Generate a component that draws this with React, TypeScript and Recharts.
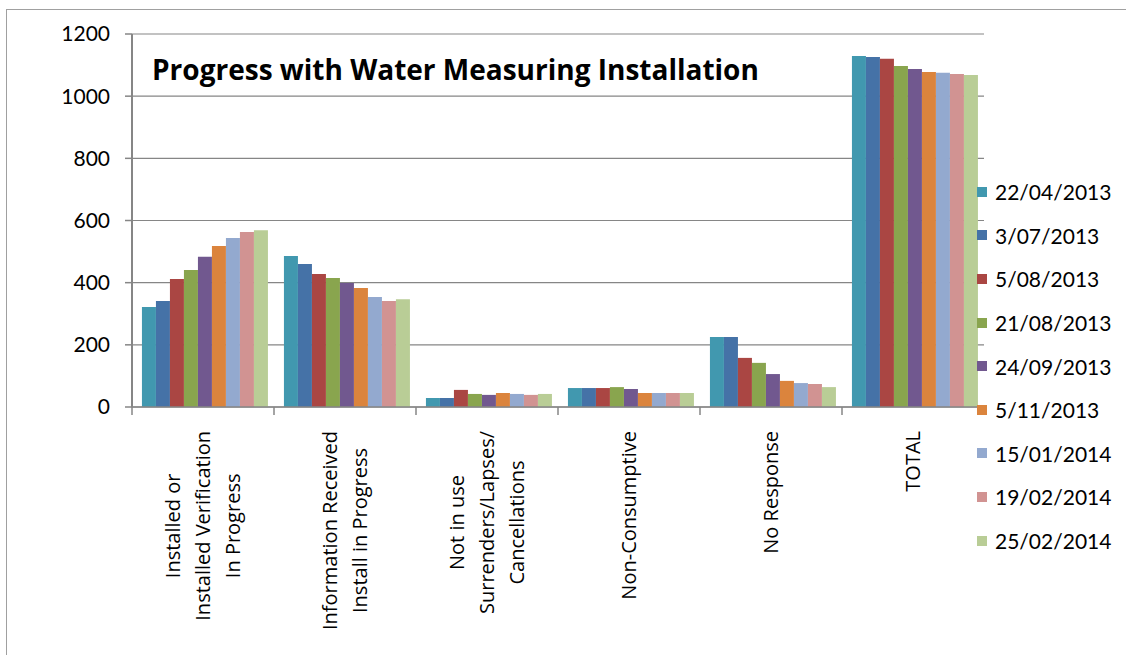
import React from 'react';
import { BarChart, Bar, XAxis, YAxis, CartesianGrid } from 'recharts';

const categories = [
  'Installed or\nInstalled Verification\nIn Progress',
  'Information Received\nInstall in Progress',
  'Not in use\nSurrenders/Lapses/\nCancellations',
  'Non-Consumptive',
  'No Response',
  'TOTAL',
];

const dates = [
  '22/04/2013', '3/07/2013', '5/08/2013', '21/08/2013', '24/09/2013',
  '5/11/2013', '15/01/2014', '19/02/2014', '25/02/2014',
];

const colors = [
  '#4198AF', '#4572A7', '#AA4643', '#89A54E', '#71588F',
  '#DB843D', '#93A9CF', '#D19392', '#B9CD96',
];

// values per date, in the same order as categories
const d22Apr13 = [322, 486, 29, 61, 225, 1129];
const d3Jul13 = [341, 460, 29, 61, 225, 1126];
const d5Aug13 = [412, 428, 55, 61, 158, 1120];
const d21Aug13 = [441, 415, 42, 64, 142, 1097];
const d24Sep13 = [483, 399, 39, 58, 106, 1087];
const d5Nov13 = [518, 383, 45, 45, 84, 1078];
const d15Jan14 = [544, 354, 42, 45, 77, 1075];
const d19Feb14 = [563, 341, 39, 45, 74, 1071];
const d25Feb14 = [569, 347, 42, 45, 64, 1068];

const seriesValues = [
  d22Apr13, d3Jul13, d5Aug13, d21Aug13, d24Sep13,
  d5Nov13, d15Jan14, d19Feb14, d25Feb14,
];

const yTicks = [0, 200, 400, 600, 800, 1000, 1200];

const data = categories.map((name, i) => {
  const row: Record<string, string | number> = { name };
  dates.forEach((d, s) => {
    row[d] = seriesValues[s][i];
  });
  return row;
});

const W = 1126;
const H = 655;
const PLOT_LEFT = 132;
const PLOT_RIGHT = 984;
const PLOT_TOP = 34;
const PLOT_BOTTOM = 407;
const AXIS = '#868686';
const FONT = 'Lato, "Open Sans", sans-serif';
const LABEL_FONT = '"Open Sans", sans-serif';
const LABEL_FONT_SIZE = 20;

let ctx: CanvasRenderingContext2D | null = null;
const textWidth = (s: string) => {
  if (!ctx) ctx = document.createElement('canvas').getContext('2d');
  if (!ctx) return s.length * 10;
  ctx.font = `${LABEL_FONT_SIZE}px "Open Sans"`;
  return ctx.measureText(s).width;
};

const CategoryTick = (props: any) => {
  const { x, payload, index } = props;
  const band = (PLOT_RIGHT - PLOT_LEFT) / categories.length;
  const lines: string[] = String(payload.value).split('\n');
  const maxW = Math.max(...lines.map(textWidth));
  const cy = 431 + maxW / 2;
  const isLast = index === categories.length - 1;
  return (
    <g>
      <line x1={x - band / 2} x2={x - band / 2} y1={PLOT_BOTTOM} y2={PLOT_BOTTOM + 8} stroke={AXIS} strokeWidth={1.5} />
      {isLast && (
        <line x1={x + band / 2} x2={x + band / 2} y1={PLOT_BOTTOM} y2={PLOT_BOTTOM + 8} stroke={AXIS} strokeWidth={1.5} />
      )}
      {lines.map((ln, i) => {
        const px = x + (i - (lines.length - 1) / 2) * 30;
        return (
          <text
            key={i}
            x={px}
            y={cy}
            transform={`rotate(-90, ${px}, ${cy})`}
            textAnchor="middle"
            dominantBaseline="central"
            fontFamily={LABEL_FONT}
            fontSize={LABEL_FONT_SIZE}
            fill="#000"
          >
            {ln}
          </text>
        );
      })}
    </g>
  );
};

export default function App() {
  return (
    <div style={{ position: 'absolute', left: 0, top: 0, width: W, height: H, background: '#fff', overflow: 'hidden' }}>
      <div
        style={{
          position: 'absolute', left: 6, top: 9, width: W, height: H,
          borderLeft: '1.5px solid #a0a0a0', borderTop: '1.5px solid #a0a0a0',
        }}
      />
      <BarChart
        width={W}
        height={H}
        data={data}
        margin={{ top: PLOT_TOP, right: W - PLOT_RIGHT, left: PLOT_LEFT - 60, bottom: H - PLOT_BOTTOM - 220 }}
        barCategoryGap="7%"
        barGap={0}
        style={{ position: 'absolute', left: 0, top: 0 }}
      >
        <CartesianGrid horizontal vertical={false} stroke={AXIS} strokeWidth={1.2} />
        <XAxis
          dataKey="name"
          interval={0}
          height={220}
          tickLine={false}
          axisLine={{ stroke: AXIS, strokeWidth: 1.5 }}
          tick={<CategoryTick />}
        />
        <YAxis
          width={60}
          domain={[0, 1200]}
          ticks={yTicks}
          interval={0}
          tickSize={7}
          tickMargin={15}
          axisLine={{ stroke: AXIS, strokeWidth: 2 }}
          tickLine={{ stroke: AXIS, strokeWidth: 1.5 }}
          tick={{ fontFamily: FONT, fontSize: 21, fill: '#000' }}
        />
        {dates.map((d, s) => (
          <Bar key={d} dataKey={d} fill={colors[s]} isAnimationActive={false} />
        ))}
        <text x={152} y={80} fontFamily='"Open Sans", sans-serif' fontWeight="bold" fontSize={28} fill="#000">
          Progress with Water Measuring Installation
        </text>
      </BarChart>
      <div style={{ position: 'absolute', left: 977, top: 170 }}>
        {dates.map((d, s) => (
          <div key={d} style={{ display: 'flex', alignItems: 'center', height: 43.6 }}>
            <div style={{ width: 10, height: 10, background: colors[s], marginRight: 8 }} />
            <span style={{ fontFamily: FONT, fontSize: 21, color: '#000' }}>{d}</span>
          </div>
        ))}
      </div>
    </div>
  );
}
